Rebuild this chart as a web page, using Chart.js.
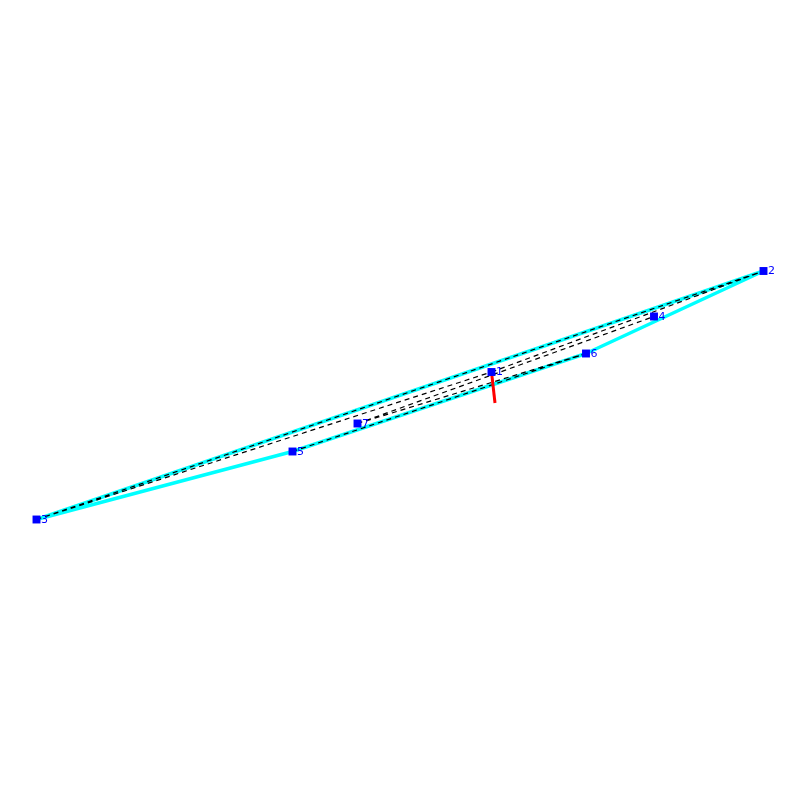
<!DOCTYPE html>
<html>
<head>
<meta charset="utf-8">
<script src="https://cdn.jsdelivr.net/npm/chart.js@4/dist/chart.umd.min.js"></script>
<style>
  html, body { margin: 0; padding: 0; background: #fff; }
  #wrap { position: absolute; left: 0; top: 0; width: 800px; height: 800px; }
</style>
</head>
<body>
<div id="wrap"><canvas id="chart"></canvas></div>
<script>
// mesh nodes
const nodeLabels = ['1', '2', '3', '4', '5', '6', '7'];
const nodeX = [491.5, 763.5, 36.5, 654, 292.5, 586, 357.5];
const nodeY = [372, 271, 519.5, 316.5, 451.5, 353.5, 423.5];

// node pairs (1-based)
const boundaryEdges = [[3, 2], [2, 6], [6, 5], [5, 3]];
const meshEdges = [[3, 2], [3, 1], [1, 2], [7, 4], [7, 6], [5, 6]];

// the red vector on node 1
const vectorX = [491.5, 495];
const vectorY = [372, 403];

const toPoints = (xs, ys) => xs.map((x, i) => ({ x, y: ys[i] }));
const edgePoints = (edges) => edges.flatMap(([a, b]) => [
  { x: nodeX[a - 1], y: nodeY[a - 1] },
  { x: nodeX[b - 1], y: nodeY[b - 1] },
  { x: null, y: null },
]);

const nodeLabelPlugin = {
  id: 'nodeLabels',
  afterDatasetsDraw(chart) {
    const { ctx, scales } = chart;
    ctx.save();
    ctx.fillStyle = '#0000ff';
    ctx.font = '11px "DejaVu Sans"';
    ctx.textBaseline = 'middle';
    nodeLabels.forEach((label, i) => {
      ctx.fillText(label, scales.x.getPixelForValue(nodeX[i]) + 4.5, scales.y.getPixelForValue(nodeY[i]) + 0.5);
    });
    ctx.restore();
  },
};

new Chart(document.getElementById('chart'), {
  type: 'scatter',
  data: {
    datasets: [
      {
        label: 'boundary',
        data: edgePoints(boundaryEdges),
        showLine: true,
        spanGaps: false,
        borderColor: '#00ffff',
        borderWidth: 3.5,
        pointRadius: 0,
        order: 4,
      },
      {
        label: 'mesh',
        data: edgePoints(meshEdges),
        showLine: true,
        spanGaps: false,
        borderColor: '#000000',
        borderWidth: 1.2,
        borderDash: [5, 4],
        pointRadius: 0,
        order: 3,
      },
      {
        label: 'vector',
        data: toPoints(vectorX, vectorY),
        showLine: true,
        borderColor: '#ff0000',
        borderWidth: 3,
        pointRadius: 0,
        order: 2,
      },
      {
        label: 'nodes',
        data: toPoints(nodeX, nodeY),
        pointStyle: 'rect',
        pointRadius: 5.6,
        pointBackgroundColor: '#0000ff',
        pointBorderWidth: 0,
        order: 1,
      },
    ],
  },
  options: {
    responsive: true,
    maintainAspectRatio: true,
    aspectRatio: 1,
    animation: false,
    layout: { padding: 0, autoPadding: false },
    plugins: { legend: { display: false }, tooltip: { enabled: false } },
    scales: {
      x: { type: 'linear', min: 0, max: 800, display: false },
      y: { type: 'linear', min: 0, max: 800, reverse: true, display: false },
    },
  },
  plugins: [nodeLabelPlugin],
});
</script>
</body>
</html>
